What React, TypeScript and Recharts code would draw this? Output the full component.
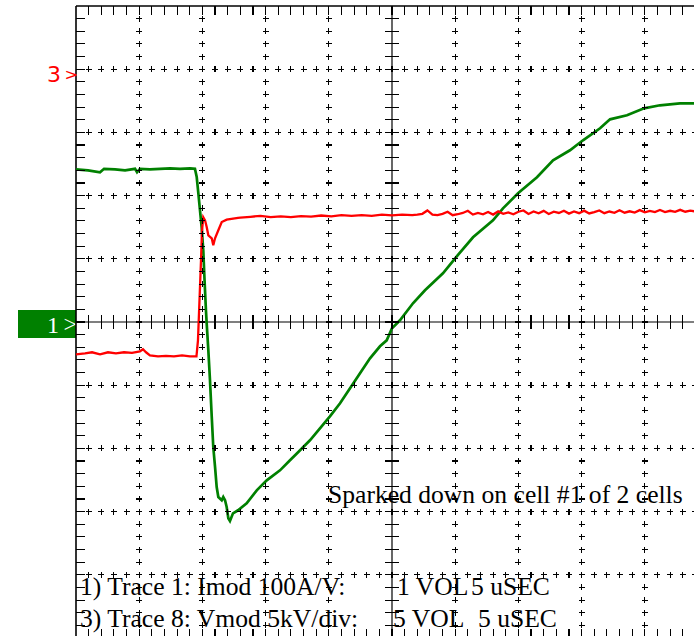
import React from 'react';
import { ComposedChart, Line, Scatter, XAxis, YAxis, ReferenceLine } from 'recharts';

// Time base: 5 uSEC / div, 10 divisions -> 0..50 us. Vertical: divisions, -5..5.
const timeDomain: [number, number] = [0, 50];
const divDomain: [number, number] = [-5, 5];

// Trace 8: Vmod (green), in divisions
const vmodTime = [0, 0.95, 1.9, 2.22, 3.09, 3.88, 4.67, 4.83, 5.06, 5.85, 6.65, 7.44, 8.23, 9.02, 9.41, 9.55, 9.68, 9.81, 9.94, 10.07, 10.17, 10.28, 10.34, 10.47, 10.6, 10.74, 10.86, 11.0, 11.13, 11.26, 11.53, 11.65, 11.79, 11.92, 12.05, 12.18, 12.42, 12.82, 13.5, 14.3, 15.09, 16.14, 16.93, 17.59, 18.51, 19.3, 20.09, 20.89, 21.68, 22.47, 23.26, 24.05, 24.58, 25.0, 25.63, 26.66, 27.61, 29.03, 30.06, 31.41, 32.99, 33.78, 34.97, 36.47, 37.74, 39.08, 40.11, 41.46, 42.25, 43.59, 44.94, 46.2, 47.78, 48.89, 50];
const vmodDiv = [2.416, 2.4, 2.369, 2.424, 2.416, 2.4, 2.424, 2.369, 2.424, 2.416, 2.424, 2.432, 2.424, 2.432, 2.424, 2.294, 2.036, 1.767, 1.503, 1.134, 0.66, 0.185, -0.025, -0.448, -0.922, -1.503, -1.978, -2.294, -2.611, -2.769, -2.821, -2.769, -2.821, -2.927, -3.106, -3.149, -3.027, -2.979, -2.869, -2.663, -2.505, -2.347, -2.188, -2.057, -1.872, -1.682, -1.492, -1.286, -1.049, -0.812, -0.574, -0.384, -0.29, -0.1, 0.027, 0.296, 0.502, 0.771, 1.024, 1.34, 1.609, 1.799, 2.036, 2.29, 2.559, 2.717, 2.875, 3.065, 3.207, 3.271, 3.381, 3.429, 3.46, 3.46, 3.476];

// Trace 1: Imod (red), in divisions
const imodTime = [0, 0.71, 1.27, 1.9, 2.53, 3.16, 3.8, 4.43, 5.06, 5.3, 5.54, 5.85, 6.49, 7.12, 7.75, 8.39, 9.02, 9.53, 9.65, 9.77, 9.89, 9.97, 10.07, 10.21, 10.34, 10.47, 10.74, 10.86, 11.0, 11.26, 11.53, 11.92, 12.82, 13.0, 13.8, 14.6, 15.4, 16.2, 17.0, 17.8, 18.6, 19.4, 20.2, 21.0, 21.8, 22.6, 23.4, 24.2, 25.0, 25.8, 26.6, 27.0, 27.4, 27.8, 28.2, 28.6, 29.0, 29.4, 29.8, 30.2, 30.6, 31.0, 31.4, 31.8, 32.2, 32.6, 33.0, 33.4, 33.8, 34.2, 34.6, 35.0, 35.4, 35.8, 36.2, 36.6, 37.0, 37.4, 37.8, 38.2, 38.6, 39.0, 39.4, 39.8, 40.2, 40.6, 41.0, 41.4, 41.8, 42.2, 42.6, 43.0, 43.4, 43.8, 44.2, 44.6, 45.0, 45.4, 45.8, 46.2, 46.6, 47.0, 47.4, 47.8, 48.2, 48.6, 49.0, 49.4, 49.8, 50];
const imodDiv = [-0.511, -0.495, -0.479, -0.511, -0.479, -0.495, -0.479, -0.487, -0.464, -0.432, -0.479, -0.527, -0.543, -0.535, -0.543, -0.527, -0.543, -0.543, -0.29, 0.343, 0.976, 1.451, 1.657, 1.609, 1.503, 1.372, 1.324, 1.214, 1.324, 1.451, 1.582, 1.62, 1.646, 1.65, 1.665, 1.68, 1.66, 1.672, 1.66, 1.675, 1.668, 1.685, 1.672, 1.69, 1.678, 1.692, 1.68, 1.7, 1.688, 1.7, 1.69, 1.7, 1.712, 1.765, 1.7, 1.69, 1.712, 1.745, 1.69, 1.705, 1.725, 1.76, 1.7, 1.725, 1.705, 1.74, 1.7, 1.75, 1.712, 1.735, 1.705, 1.745, 1.765, 1.71, 1.748, 1.72, 1.758, 1.708, 1.745, 1.725, 1.76, 1.715, 1.748, 1.722, 1.762, 1.718, 1.74, 1.765, 1.722, 1.748, 1.728, 1.768, 1.73, 1.752, 1.732, 1.77, 1.735, 1.758, 1.738, 1.772, 1.74, 1.76, 1.742, 1.775, 1.745, 1.762, 1.748, 1.77, 1.75, 1.755];

const channelMarkers = [
  { label: '3', level: 3.92, color: '#ff0000' },
];
const groundMarker = { label: '1', level: 0 };

const annotation = 'Sparked down on cell #1 of 2 cells';
const traceLines = [
  { name: '1) Trace 1: Imod 100A/V:', volts: '1 VOL', time: '5 uSEC' },
  { name: '3) Trace 8: Vmod 5kV/div:', volts: '5 VOL', time: '5 uSEC' },
];

const GREEN = '#008000';
const RED = '#ff0000';

const vmodData = vmodTime.map((x, i) => ({ x, y: vmodDiv[i] }));
const imodData = imodTime.map((x, i) => ({ x, y: imodDiv[i] }));

// graticule marks (built from the division structure)
type Mark = { x: number; y: number; kind: string };
const marks: Mark[] = [];
const xMinor = (i: number) => i; // 1 us per minor step
const yMinor = (i: number) => Math.round((-5 + i * 0.2) * 1000) / 1000;
for (let i = 1; i < 50; i++) {
  marks.push({ x: xMinor(i), y: 5, kind: 'top' });
  marks.push({ x: xMinor(i), y: -5, kind: 'bottom' });
  marks.push({ x: xMinor(i), y: 0, kind: 'cy' });
  for (let j = -4; j <= 4; j++) {
    if (j === 0) continue;
    marks.push({ x: xMinor(i), y: j, kind: 'plus' });
  }
}
for (let i = 1; i < 50; i++) {
  const y = yMinor(i);
  marks.push({ x: 0, y, kind: 'left' });
  marks.push({ x: 50, y, kind: 'right' });
  marks.push({ x: 25, y, kind: 'cx' });
  for (let k = 1; k <= 9; k++) {
    if (k === 5) continue;
    marks.push({ x: k * 5, y, kind: 'plus' });
  }
}

const MarkShape = (props: any) => {
  const { cx, cy, payload } = props;
  if (cx == null || cy == null) return <g />;
  const L = 9;
  const C = 7;
  const P = 3;
  let d = '';
  switch (payload.kind) {
    case 'plus':
      d = `M${cx - P},${cy}H${cx + P}M${cx},${cy - P}V${cy + P}`;
      break;
    case 'top':
      d = `M${cx},${cy}V${cy + L}`;
      break;
    case 'bottom':
      d = `M${cx},${cy}V${cy - L}`;
      break;
    case 'left':
      d = `M${cx},${cy}H${cx + L}`;
      break;
    case 'right':
      d = `M${cx},${cy}H${cx - L}`;
      break;
    case 'cx':
      d = `M${cx - C},${cy}H${cx + C}`;
      break;
    case 'cy':
      d = `M${cx},${cy - C}V${cy + C}`;
      break;
  }
  return <path d={d} stroke="#000" strokeWidth={1.1} fill="none" shapeRendering="crispEdges" />;
};

const serif = "'Liberation Serif', 'Times New Roman', serif";
const sans = "'DejaVu Sans', 'Liberation Sans', sans-serif";

const GroundTag = (props: any) => {
  const vb = props.viewBox || {};
  const x = vb.x;
  const y = vb.y;
  return (
    <g>
      <rect x={x - 58} y={y - 12} width={58} height={28} fill={GREEN} />
      <text x={x - 17} y={y + 11} fill="#fff" fontFamily={serif} fontSize={24} textAnchor="end">{groundMarker.label}</text>
      <text x={x + 1} y={y + 10} fill="#fff" fontFamily={serif} fontSize={24} textAnchor="end">&gt;</text>
    </g>
  );
};

const ChannelTag = (color: string, label: string) => (props: any) => {
  const vb = props.viewBox || {};
  const x = vb.x;
  const y = vb.y;
  return (
    <g>
      <text x={x - 15} y={y + 8} fill={color} fontFamily={sans} fontSize={22} textAnchor="end">{label}</text>
      <text x={x + 2} y={y + 6} fill={color} fontFamily={sans} fontSize={16} textAnchor="end">&gt;</text>
    </g>
  );
};

const textStyle = { fontFamily: serif, fontSize: 25.6, fill: '#000' };

export default function App() {
  return (
    <div style={{ position: 'fixed', left: 0, top: 0, width: 694, height: 636, overflow: 'hidden', background: '#fff' }}>
      <div style={{ position: 'absolute', left: 0, top: 0 }}>
        <ComposedChart width={720} height={660} margin={{ top: 6, right: 12, bottom: 22, left: 76 }}>
          <XAxis type="number" dataKey="x" domain={timeDomain} allowDataOverflow hide />
          <YAxis type="number" dataKey="y" domain={divDomain} allowDataOverflow hide />
          <Scatter data={marks} dataKey="y" shape={MarkShape} isAnimationActive={false} />
          <ReferenceLine x={25} stroke="#000" strokeWidth={1.2} />
          <ReferenceLine y={0} stroke="#000" strokeWidth={1.2} label={GroundTag} />
          <ReferenceLine x={0} stroke="#000" strokeWidth={1.6} />
          <ReferenceLine y={5} stroke="#000" strokeWidth={1.6} />
          <ReferenceLine x={50} stroke="#000" strokeWidth={1.6} />
          <ReferenceLine y={-5} stroke="#000" strokeWidth={1.6} />
          {channelMarkers.map((m) => (
            <ReferenceLine key={m.label} y={m.level} stroke="none" label={ChannelTag(m.color, m.label)} />
          ))}
          <Line data={vmodData} dataKey="y" type="linear" stroke={GREEN} strokeWidth={2.7} dot={false} isAnimationActive={false} />
          <Line data={imodData} dataKey="y" type="linear" stroke={RED} strokeWidth={2.3} dot={false} isAnimationActive={false} />
        </ComposedChart>
      </div>
      <svg width={694} height={636} style={{ position: 'absolute', left: 0, top: 0, pointerEvents: 'none' }}>
        <text x={328} y={503} {...textStyle}>{annotation}</text>
        <text x={80} y={595} {...textStyle}>{traceLines[0].name}</text>
        <text x={397} y={595} {...textStyle}>{traceLines[0].volts}</text>
        <text x={471} y={595} {...textStyle}>{traceLines[0].time}</text>
        <text x={80} y={627} {...textStyle}>{traceLines[1].name}</text>
        <text x={393} y={627} {...textStyle}>{traceLines[1].volts}</text>
        <text x={478} y={627} {...textStyle}>{traceLines[1].time}</text>
      </svg>
    </div>
  );
}
